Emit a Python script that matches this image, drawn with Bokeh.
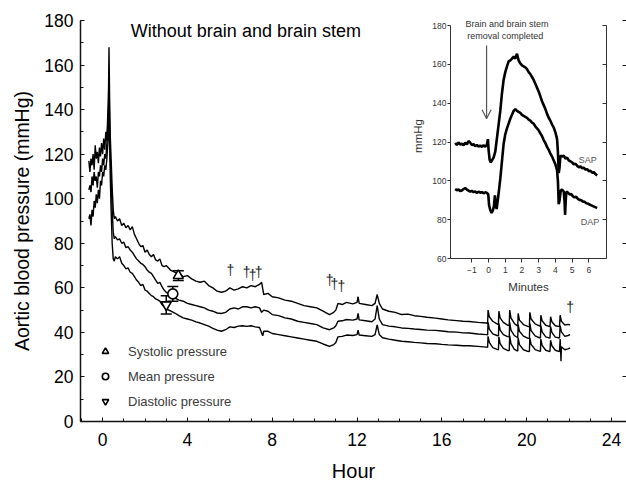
from bokeh.plotting import figure
from bokeh.models import (Range1d, FixedTicker, LinearAxis, Legend, LegendItem, Whisker,
                          ColumnDataSource, Arrow, OpenHead, GridBox, TeeHead, Label)
from bokeh.core.properties import value
from bokeh.embed import file_html
from bokeh.resources import INLINE

FONT = "Liberation Sans"

# ---------------- main chart data ----------------
sys_hour = [-0.65, -0.6, -0.55, -0.5, -0.45, -0.4, -0.35, -0.3, -0.25, -0.2, -0.15, -0.1, -0.05, 0.0, 0.05, 0.1, 0.15, 0.2, 0.25, 0.28, 0.3, 0.33, 0.36, 0.4, 0.45, 0.5, 0.55,
            0.6, 0.7, 0.8, 0.9, 1.0, 1.1, 1.2, 1.3, 1.4, 1.5, 1.6, 1.7, 1.8, 1.9, 2.0, 2.1, 2.2, 2.3, 2.4, 2.5, 2.6, 2.7, 2.8, 2.9, 3.0, 3.2, 3.4, 3.6, 3.8, 4.0, 4.2, 4.4, 4.6, 4.8,
            5.0, 5.2, 5.4, 5.6, 5.8, 6.0, 6.2, 6.4, 6.6, 6.8, 7.0, 7.2, 7.4, 7.5, 7.6, 7.8, 8.0, 8.3, 8.6, 8.9, 9.2, 9.5, 9.8, 10.1, 10.4, 10.7, 10.9, 11.0, 11.1, 11.3, 11.5, 11.8,
            12.0, 12.05, 12.1, 12.4, 12.7, 12.85, 12.95, 13.05, 13.2, 13.5, 13.8, 14.1, 14.4, 14.7, 15.0, 15.3, 15.7, 16.0, 16.3, 16.7, 17.0, 17.3, 17.7, 18.1,
            18.16, 18.18, 18.24, 18.4, 18.6, 18.67, 18.69, 18.75, 18.9, 19.1, 19.18, 19.2, 19.26, 19.42, 19.58, 19.6, 19.66, 19.85, 20.05, 20.13,
            20.15, 20.21, 20.4, 20.6, 20.65, 20.67, 20.73, 20.9, 21.1, 21.13, 21.19, 21.35, 21.55, 21.58, 21.64, 21.8, 21.95, 22.05]
sys_mmhg = [117, 112, 118, 115, 120, 113, 124, 118, 121, 116, 123, 119, 125, 120, 127, 122, 130, 126, 140, 150, 168, 145, 128, 118, 105, 95, 91,
            92, 90, 91, 88, 89, 87, 88, 86, 87.5, 84, 82, 80, 78.5, 79, 76, 77, 75, 74, 75, 72.5, 72, 73, 70, 69.5, 70, 68, 67, 66.5, 65, 65.5, 64, 63, 62.5, 63,
            61, 60, 58.5, 58, 58.5, 60, 59, 59.5, 60.5, 60, 61, 60.5, 61.5, 62.5, 57, 57.5, 56, 55.5, 54.5, 54, 53, 52, 51.5, 51, 49.5, 48, 49, 50, 53, 52.5, 53.5, 52.8,
            53.5, 56, 53, 52.5, 52, 53, 57, 53, 50.5, 49.5, 49, 48, 48.2, 47.5, 47.2, 46.8, 46.4, 46, 45.6, 45.3, 45, 44.9, 44.5, 44.2,
            44, 50, 47, 45, 43.8, 43.5, 49.5, 46.5, 44.5, 43.3, 43, 50, 46.5, 44, 42.8, 48.5, 45.5, 43.5, 42.7, 42.5,
            49, 46, 43.8, 42.9, 42.7, 47.7, 45.2, 43.2, 42.6, 47, 44.8, 43, 42.6, 47.7, 45, 43.3, 43.6, 43.4]

mean_hour = [-0.65, -0.6, -0.55, -0.5, -0.45, -0.4, -0.35, -0.3, -0.25, -0.2, -0.15, -0.1, -0.05, 0.0, 0.05, 0.1, 0.15, 0.2, 0.25, 0.28, 0.3, 0.33, 0.36, 0.4, 0.45, 0.5, 0.55,
             0.6, 0.7, 0.8, 0.9, 1.0, 1.1, 1.2, 1.3, 1.4, 1.5, 1.6, 1.7, 1.8, 1.9, 2.0, 2.1, 2.2, 2.3, 2.4, 2.5, 2.6, 2.7, 2.8, 2.9, 3.0, 3.2, 3.4, 3.6, 3.8, 4.0, 4.2, 4.4, 4.6, 4.8,
             5.0, 5.2, 5.4, 5.6, 5.8, 6.0, 6.2, 6.4, 6.6, 6.8, 7.0, 7.2, 7.4, 7.5, 7.6, 7.8, 8.0, 8.3, 8.6, 8.9, 9.2, 9.5, 9.8, 10.1, 10.4, 10.7, 10.9, 11.0, 11.1, 11.3, 11.5, 11.8,
             12.0, 12.05, 12.1, 12.4, 12.7, 12.85, 12.95, 13.05, 13.2, 13.5, 13.8, 14.1, 14.4, 14.7, 15.0, 15.3, 15.7, 16.0, 16.3, 16.7, 17.0, 17.3, 17.7, 18.1,
             18.16, 18.18, 18.24, 18.4, 18.6, 18.67, 18.69, 18.75, 18.9, 19.1, 19.18, 19.2, 19.26, 19.42, 19.58, 19.6, 19.66, 19.85, 20.05, 20.13,
             20.15, 20.21, 20.4, 20.6, 20.65, 20.67, 20.73, 20.9, 21.1, 21.13, 21.19, 21.35, 21.55, 21.58, 21.64, 21.8, 21.95, 22.05]
mean_mmhg = [104, 106, 103, 110, 106, 112, 108, 110, 105, 112, 110, 115, 112, 118, 115, 120, 118, 125, 135, 140, 150, 132, 118, 110, 95, 85, 82,
             83, 81.5, 82, 80, 80.5, 78, 78.5, 77, 76, 74.5, 73, 72, 71, 70.5, 69.5, 68, 67, 66.5, 65, 63.5, 62, 62.5, 60.5, 59, 58, 57, 55.5, 54.5, 54, 53, 52.5, 52, 51.5, 51,
             50, 49.5, 48.7, 48.5, 49, 50.5, 51, 50.5, 51.5, 51.5, 51, 51.5, 51, 49, 50, 49.5, 48, 47.5, 46.5, 46, 45, 44.5, 44, 43.5, 42, 41.2, 42, 43, 45, 45.2, 45.8, 45.5,
             46, 48.5, 45.6, 45.2, 44.8, 46, 52, 46, 43.5, 42.8, 42.5, 42, 41.8, 41.5, 41.3, 41, 40.9, 40.6, 40.3, 40.1, 39.8, 39.7, 39.3, 39,
             38.9, 44.5, 41.5, 39.3, 38.6, 38.5, 44, 41, 39, 38.1, 38, 44.5, 41, 38.6, 37.6, 43.5, 40.5, 38.3, 37.4, 37.3,
             44, 40.8, 38.4, 37.6, 37.5, 43, 40.2, 38, 37.4, 42.6, 40, 37.9, 37.5, 43, 40.2, 38.2, 38.6, 39]

dia_hour = [-0.65, -0.6, -0.55, -0.5, -0.45, -0.4, -0.35, -0.3, -0.25, -0.2, -0.15, -0.1, -0.05, 0.0, 0.05, 0.1, 0.15, 0.2, 0.25, 0.28, 0.3, 0.33, 0.36, 0.4, 0.45, 0.5, 0.55,
            0.6, 0.7, 0.8, 0.9, 1.0, 1.1, 1.2, 1.3, 1.4, 1.5, 1.6, 1.7, 1.8, 1.9, 2.0, 2.1, 2.2, 2.3, 2.4, 2.5, 2.6, 2.7, 2.8, 2.9, 3.0, 3.2, 3.4, 3.6, 3.8, 4.0, 4.2, 4.4, 4.6, 4.8,
            5.0, 5.2, 5.4, 5.6, 5.8, 6.0, 6.2, 6.4, 6.6, 6.8, 7.0, 7.2, 7.4, 7.55, 7.6, 7.8, 8.0, 8.3, 8.6, 8.9, 9.2, 9.5, 9.8, 10.1, 10.4, 10.7, 10.9, 11.0, 11.1, 11.3, 11.5, 11.8,
            12.0, 12.05, 12.1, 12.4, 12.7, 12.85, 12.95, 13.05, 13.2, 13.5, 13.8, 14.1, 14.4, 14.7, 15.0, 15.3, 15.7, 16.0, 16.3, 16.7, 17.0, 17.3, 17.7, 18.1,
            18.16, 18.18, 18.24, 18.4, 18.6, 18.67, 18.69, 18.75, 18.9, 19.1, 19.18, 19.2, 19.26, 19.42, 19.58, 19.6, 19.66, 19.85, 20.05, 20.13,
            20.15, 20.21, 20.4, 20.6, 20.65, 20.67, 20.73, 20.9, 21.1, 21.13, 21.19, 21.35, 21.55, 21.58, 21.6, 21.62, 21.64, 21.8, 21.95, 22.05]
dia_mmhg = [91, 93, 88, 95, 92, 99, 96, 102, 98, 104, 100, 108, 106, 112, 110, 115, 113, 118, 125, 130, 138, 125, 110, 95, 80, 73, 72,
            74, 73, 74, 71, 70, 68.5, 69, 67, 66.5, 65, 63.5, 62.5, 61, 61.5, 59, 58.5, 57.5, 56.5, 56, 55, 54.6, 54, 52.5, 51.5, 50.5, 49.7, 48.7, 47.5, 46.5, 46, 45.5, 44.7, 44.2, 43.5,
            42.8, 41.8, 41, 40.5, 41.2, 42.5, 42.2, 42.8, 43, 42.7, 43, 42.5, 42.2, 38.5, 40.5, 40.5, 39.5, 39, 38.5, 38, 37.5, 37, 36.5, 36, 34.8, 33.7, 34.5, 35.5, 38, 38.2, 38.8, 38.6,
            39, 41, 38.8, 38.5, 38.2, 39, 43.4, 39, 37.6, 37, 36.5, 36, 35.8, 35.5, 35.3, 35, 34.9, 34.6, 34.4, 34.2, 34, 34, 33.7, 33.4,
            33.3, 38.2, 35.5, 33.2, 32.4, 32.2, 38, 35, 32.8, 31.9, 31.8, 38.5, 35, 32.4, 31.6, 37.5, 34.5, 32.2, 31.5, 31.4,
            37.5, 34.6, 32.3, 31.6, 31.5, 37, 34.2, 32, 31.4, 36.5, 34, 32, 31.4, 37, 33, 27, 33.5, 32.2, 32.6, 33]

# group means with error (+/-)
pt_hour = [3.57, 3.31, 3.0]
pt_mmhg = [65.5, 57.3, 52.4]
pt_err = [2.2, 3.3, 4.1]
legend_labels = ["Systolic pressure", "Mean pressure", "Diastolic pressure"]

# death markers
dagger_hour = [6.03, 6.79, 7.07, 7.36, 10.71, 10.93, 11.26, 22.05]
dagger_mmhg = [68.1, 67.3, 65.8, 67.3, 63.6, 61.7, 60.6, 51.6]

x_ticks = [0, 4, 8, 12, 16, 20, 24]
y_ticks = [0, 20, 40, 60, 80, 100, 120, 140, 160, 180]

# ---------------- inset data ----------------
sap_min = [-2.0, -1.9, -1.8, -1.7, -1.6, -1.5, -1.4, -1.3, -1.2, -1.1, -1.0, -0.9, -0.8, -0.7, -0.6, -0.5, -0.4, -0.3, -0.2, -0.1, -0.04, 0.0, 0.06, 0.12, 0.2, 0.3, 0.4,
           0.5, 0.6, 0.7, 0.8, 0.9, 1.0, 1.1, 1.2, 1.3, 1.4, 1.5, 1.6, 1.7, 1.8, 1.9, 2.0, 2.1, 2.2, 2.3, 2.4, 2.5, 2.6, 2.7, 2.8, 2.9, 3.0, 3.1, 3.2, 3.3, 3.4, 3.5, 3.6,
           3.7, 3.8, 3.9, 4.0, 4.1, 4.15, 4.2, 4.25, 4.3, 4.4, 4.5, 4.6, 4.7, 4.8, 4.9, 5.0, 5.1, 5.2, 5.3, 5.4, 5.5, 5.6, 5.7, 5.8, 5.9, 6.0, 6.1, 6.2, 6.3, 6.4, 6.5]
sap_mmhg = [119.5, 118.5, 119.8, 118.7, 119.2, 118.3, 119.6, 118.8, 120.5, 119.7, 118.4, 118.9, 117.8, 118.5, 117.6, 118.2, 117.5, 118.3, 117.6, 118.6, 121.5, 116, 111, 109.5, 110.5, 112, 115,
            122, 129, 136, 145, 152, 156, 159, 161.5, 162, 163, 164, 163, 165.5, 162, 160.5, 159.5, 159, 158.5, 157.5, 156, 155, 153.5, 152, 150, 148, 146, 143.5, 141, 139, 137, 134.5, 132.5,
            131, 129, 127.5, 125, 121.5, 115, 104, 107, 113, 112.5, 113, 111.5, 112, 110.5, 110, 109.5, 108.5, 108.8, 107.8, 107, 107.5, 106.5, 106.8, 105.8, 106, 105, 105.2, 104.2, 104.5, 103.5, 102.8]

dap_min = [-2.0, -1.9, -1.8, -1.7, -1.6, -1.5, -1.4, -1.3, -1.2, -1.1, -1.0, -0.9, -0.8, -0.7, -0.6, -0.5, -0.4, -0.3, -0.2, -0.1, -0.02, 0.03, 0.1, 0.18, 0.25, 0.32, 0.38,
           0.42, 0.48, 0.55, 0.62, 0.7, 0.8, 0.9, 1.0, 1.1, 1.2, 1.3, 1.4, 1.5, 1.6, 1.7, 1.8, 1.9, 2.0, 2.1, 2.2, 2.3, 2.4, 2.5, 2.6, 2.7, 2.8, 2.9, 3.0, 3.1, 3.2, 3.3,
           3.4, 3.5, 3.6, 3.7, 3.8, 3.9, 4.0, 4.1, 4.15, 4.2, 4.25, 4.32, 4.4, 4.5, 4.55, 4.58, 4.62, 4.66, 4.75, 4.85, 4.95, 5.05, 5.15, 5.25, 5.35, 5.45, 5.55, 5.65,
           5.75, 5.85, 5.95, 6.05, 6.15, 6.25, 6.35, 6.45, 6.5]
dap_mmhg = [95.8, 95.2, 95.5, 94.8, 95, 95.8, 96.3, 95.5, 95, 94.5, 94.8, 94.2, 94.5, 93.8, 94.4, 93.9, 94.2, 93.6, 94.1, 93.8, 93, 87.5, 85, 83.5, 84.5, 87, 92.5,
            88, 85.5, 90, 95, 101, 110, 119, 124, 127, 129.5, 132, 134, 136, 137, 136, 135.5, 135, 134, 133.5, 133, 132.5, 131.5, 131, 130, 129.5, 128, 127, 126, 124.5, 123, 121,
            119.5, 117.5, 116, 114, 112.5, 110.5, 108.5, 105.5, 100, 88, 90, 95, 95.5, 94.5, 89, 82.5, 90, 94.5, 94, 93, 93.2, 92, 91.5, 91.8, 90.6, 90.2, 90, 89.3,
            89.2, 88.5, 88.3, 87.8, 87.4, 87, 86.6, 86.2, 86]

inset_x_ticks = [-1, 0, 1, 2, 3, 4, 5, 6]
inset_y_ticks = [60, 80, 100, 120, 140, 160, 180]

# ---------------- main figure ----------------
p = figure(width=618, height=476, x_range=Range1d(-1.044, 24.71), y_range=Range1d(0, 180),
           output_backend="svg", toolbar_location=None,
           min_border_left=72, min_border_right=0, min_border_top=12, min_border_bottom=62)
p.title = None
p.outline_line_color = None
p.xgrid.visible = False
p.ygrid.visible = False
p.background_fill_color = "white"
p.border_fill_color = "white"

for ax in (p.xaxis[0], p.yaxis[0]):
    ax.axis_line_width = 1.5
    ax.axis_line_color = "#111111"
    ax.major_tick_in = 4
    ax.major_tick_out = 0
    ax.minor_tick_in = 3
    ax.minor_tick_out = 0
    ax.major_tick_line_color = "#111111"
    ax.minor_tick_line_color = "#111111"
    ax.major_label_text_font = FONT
    ax.major_label_text_font_size = "17.5px"
    ax.major_label_text_color = "black"
    ax.axis_label_text_font = FONT
    ax.axis_label_text_font_style = "normal"
    ax.axis_label_text_color = "black"

p.xaxis[0].ticker = FixedTicker(ticks=x_ticks, minor_ticks=list(range(-1, 25)))
p.yaxis[0].ticker = FixedTicker(ticks=y_ticks, minor_ticks=list(range(0, 181, 10)))
p.xaxis[0].axis_label = "Hour"
p.xaxis[0].axis_label_text_font_size = "20px"
p.xaxis[0].major_label_text_line_height = 1.0
p.xaxis[0].axis_label_text_line_height = 1.0
p.xaxis[0].major_label_standoff = 11
p.xaxis[0].axis_label_standoff = 11
p.yaxis[0].axis_label = "Aortic blood pressure (mmHg)"
p.yaxis[0].axis_label_text_font_size = "19.5px"
p.yaxis[0].major_label_standoff = 7
p.yaxis[0].axis_label_standoff = 8

# right-hand tick marks only (no labels): drawn as minor ticks
right_ax = LinearAxis(ticker=FixedTicker(ticks=[], minor_ticks=y_ticks), axis_line_color=None,
                      major_tick_in=0, major_tick_out=0, minor_tick_in=4, minor_tick_out=0,
                      minor_tick_line_color="#111111")
p.add_layout(right_ax, "right")

p.line(sys_hour, sys_mmhg, line_color="black", line_width=1.4)
p.line(mean_hour, mean_mmhg, line_color="black", line_width=1.4)
p.line(dia_hour, dia_mmhg, line_color="black", line_width=1.4)

err_src = ColumnDataSource(dict(x=pt_hour, lo=[m - e for m, e in zip(pt_mmhg, pt_err)],
                                hi=[m + e for m, e in zip(pt_mmhg, pt_err)]))
p.add_layout(Whisker(source=err_src, base="x", lower="lo", upper="hi", dimension="height",
                     line_color="black", line_width=1.5,
                     upper_head=TeeHead(size=11, line_color="black", line_width=1.5),
                     lower_head=TeeHead(size=11, line_color="black", line_width=1.5)))

markers = ["triangle", "circle", "inverted_triangle"]
rends = []
for i, m in enumerate(markers):
    r = p.scatter([pt_hour[i]], [pt_mmhg[i]], marker=m, size=10, fill_color="white",
                  line_color="black", line_width=1.6)
    rends.append(r)

legend = Legend(items=[LegendItem(label=legend_labels[i], renderers=[rends[i]]) for i in range(3)],
                location=(17, 12), orientation="vertical",
                label_text_font=FONT, label_text_font_size="13px", label_text_color="#3a3a3a",
                glyph_width=16, glyph_height=16, label_height=16, spacing=9, padding=5,
                label_standoff=15, border_line_color=None, background_fill_alpha=0)
p.add_layout(legend, "center")

p.text(dagger_hour, dagger_mmhg, text=["\u2020"] * len(dagger_hour), text_align="center",
       text_baseline="middle", text_font=value(FONT), text_font_size="14px", text_color="#222222")

p.add_layout(Label(x=1.33, y=175.2, text="Without brain and brain stem", text_align="left",
                   text_baseline="alphabetic", text_font=FONT, text_font_size="18px",
                   text_color="black"))

# ---------------- inset figure ----------------
ins = figure(width=207, height=298, x_range=Range1d(-2.28, 7.06), y_range=Range1d(60, 186.2),
             output_backend="svg", toolbar_location=None,
             min_border_left=45, min_border_right=6, min_border_top=13, min_border_bottom=40)
ins.title = None
ins.outline_line_color = None
ins.xgrid.visible = False
ins.ygrid.visible = False
ins.background_fill_color = "white"
ins.border_fill_color = "white"

ICOL = "#333333"
xa = ins.xaxis[0]
xa.ticker = FixedTicker(ticks=inset_x_ticks, minor_ticks=[])
xa.major_tick_out = 4
xa.major_tick_in = 0
xa.axis_label = "Minutes"
ya = ins.yaxis[0]
ya.ticker = FixedTicker(ticks=inset_y_ticks, minor_ticks=[])
ya.bounds = (60, 180)
ya.major_tick_out = 3
ya.major_tick_in = 0
ya.axis_label = "mmHg"
for ax in (xa, ya):
    ax.axis_line_color = ICOL
    ax.axis_line_width = 1
    ax.major_tick_line_color = ICOL
    ax.minor_tick_line_color = None
    ax.major_label_text_font = FONT
    ax.major_label_text_font_size = "8.5px"
    ax.major_label_text_color = ICOL
    ax.axis_label_text_font = FONT
    ax.axis_label_text_font_size = "11.5px"
    ax.axis_label_text_font_style = "normal"
    ax.axis_label_text_color = ICOL
xa.major_label_standoff = 4
xa.axis_label_standoff = 5
ya.major_label_standoff = 1
ya.axis_label_standoff = 5

ins_right = LinearAxis(ticker=FixedTicker(ticks=[], minor_ticks=inset_y_ticks), bounds=(60, 180),
                       axis_line_color=ICOL, axis_line_width=1,
                       major_tick_in=0, major_tick_out=0, minor_tick_in=4, minor_tick_out=0,
                       minor_tick_line_color=ICOL)
ins.add_layout(ins_right, "right")

ins.line(sap_min, sap_mmhg, line_color="black", line_width=2.6)
ins.line(dap_min, dap_mmhg, line_color="black", line_width=2.6)

ins.text([-1.38, -1.28], [183.6, 177.4], text=["Brain and brain stem", "removal completed"],
         text_align="left", text_baseline="top", text_font=value(FONT), text_font_size="9px",
         text_color=ICOL)
ins.text([5.4, 5.52], [110.5, 78.8], text=["SAP", "DAP"], text_align="left", text_baseline="middle",
         text_font=value(FONT), text_font_size="9px", text_color="#555555")
ins.add_layout(Arrow(end=OpenHead(size=9, line_color="#555555", line_width=1.2),
                     x_start=-0.12, y_start=169.7, x_end=-0.12, y_end=132,
                     line_color="#555555", line_width=1.2))
ins.styles = {"z-index": "2"}

grid = GridBox(children=[(p, 1, 1, 2, 3), (ins, 0, 2, 2, 1)],
               rows=["8px", "290px", "186px"], cols=["8px", "397px", "207px", "14px"])

open("out.html", "w").write(file_html(grid, INLINE))
